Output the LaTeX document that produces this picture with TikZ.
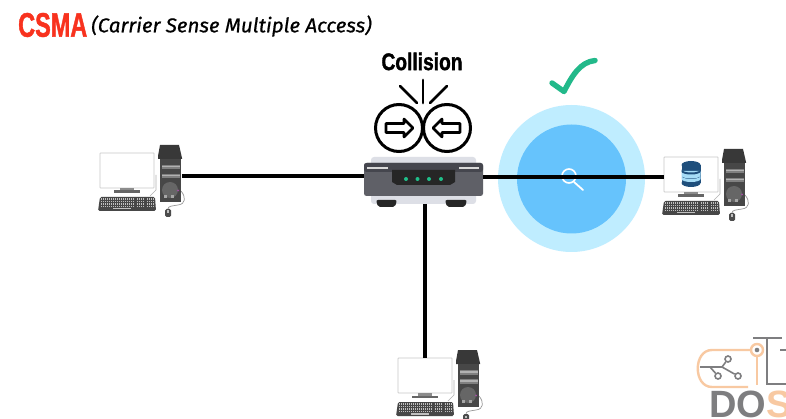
\documentclass[tikz,border=0pt]{standalone}
\usepackage{fontspec}
\setmainfont{Liberation Sans}
\newfontfamily\handfont[FakeBold=.7]{Fira Sans}
\newfontfamily\heavyfont[FakeBold=1.6]{Liberation Sans}
\definecolor{csmared}{HTML}{F8321E}
\definecolor{hubdark}{HTML}{45464E}
\definecolor{hubmid}{HTML}{5F6067}
\definecolor{hubback}{HTML}{DDDFE6}
\definecolor{hubled}{HTML}{1FC08A}
\definecolor{haloout}{HTML}{BFEDFF}
\definecolor{haloin}{HTML}{66C3FC}
\definecolor{tick}{HTML}{22B98A}
\definecolor{logoor}{HTML}{F8C9A2}
\definecolor{logogr}{HTML}{7E7E80}
\definecolor{dbdark}{HTML}{1F4F7C}
\definecolor{dblight}{HTML}{A6DCF6}
\tikzset{
  link/.style={line width=3.4pt,black},
  ray/.style={line width=2.8pt,black,line cap=round},
  bump/.style={circle,draw=black,line width=3pt,fill=white,minimum size=47pt,inner sep=0pt},
  flow/.style={draw=black,line width=2.6pt,fill=white,line join=round},
  hubbody/.style={rectangle,rounded corners=2.5pt,fill=hubmid,minimum width=119pt,minimum height=33pt,inner sep=0pt},
  led/.style={circle,fill=hubled,minimum size=4pt,inner sep=0pt},
  logoline/.style={line width=2.4pt,logoor},
  logogrey/.style={line width=2.4pt,logogr},
  logonode/.style={circle,draw=logogr,line width=1.6pt,fill=white,minimum size=6pt,inner sep=0pt}
}
\newcommand{\computer}[4]{%
 \begin{scope}[shift={(#2,#3)}]
  \draw[draw=black!22,line width=.7pt,fill=white,rounded corners=.5pt] (100,153) rectangle (154,188);
  \fill[black!45] (120,188) rectangle (134,190.5);
  \fill[black!60] (114,190.5) rectangle (140,193);
  \draw[black!30,line width=.6pt] (150,196) -- (156,190) -- (156,175);
  \draw[black!40,line width=.7pt] (181,191) .. controls (186,197) and (186,204) .. (178,205) .. controls (172,206) and (168,206) .. (168,209);
  \fill[black!78] (158,156) -- (160,145) -- (179,145) -- (182,158) -- (182,159) -- (158,159) -- cycle;
  \fill[black!72] (160,159) rectangle (181,202);
  \fill[black!50] (161.5,165) rectangle (179.5,169.5);
  \fill[black!30] (161.5,166) rectangle (179.5,167.5);
  \fill[black!50] (161.5,174) rectangle (179.5,178.5);
  \fill[black!30] (161.5,175) rectangle (179.5,176.5);
  \fill[black!60] (170,190) circle (8pt);
  \fill[black!35] (164,195) rectangle (167,198);
  \fill[black!35] (171,195) rectangle (174,198);
  \fill[violet!70] (178,190.5) circle (1pt);
  \fill[black!72,rounded corners=1.5pt] (100,197) -- (155,197) -- (156,211) -- (98,211) -- cycle;
  \foreach \r in {199,201.5,204,206.5}
    \draw[black!25,line width=1.2pt,dash pattern=on 1.2pt off .8pt] (101,\r) -- (154.5,\r);
  \draw[black!72,line width=1pt] (135,197) -- (135,211);
  \draw[black!72,line width=1pt] (145,197) -- (145,211);
  \fill[black!25] (113,208) rectangle (131,209.5);
  \fill[black!70,rounded corners=1.5pt] (165,209) rectangle (171,217);
  \fill[black!25] (167,210.5) rectangle (169,213);
  \coordinate (#1) at (#4);
 \end{scope}}
\begin{document}
\begin{tikzpicture}[x=1pt,y=-1pt]
\useasboundingbox (0,0) rectangle (786,419);
\fill[white] (0,0) rectangle (786,419);
\clip (0,0) rectangle (786,419);

% title
\node[anchor=west,inner sep=0pt,text=csmared,font=\heavyfont\bfseries\fontsize{34}{34}\selectfont] (csma) at (18,25) {\scalebox{.69}[1]{CSMA}};
\node[anchor=west,inner sep=0pt,font=\handfont\itshape\fontsize{20}{20}\selectfont] (full) at (91,26) {\scalebox{1.03}[1]{(Carrier Sense Multiple Access)}};

% halo
\node[circle,fill=haloout,minimum size=147pt,inner sep=0pt] (halo) at (571.5,178.5) {};
\node[circle,fill=haloin,minimum size=109pt,inner sep=0pt] (haloc) at (571.5,179) {};
\draw[white,line width=1.6pt] (569,176) circle (7pt);
\draw[white,line width=1.8pt,line cap=round] (574,182) -- (583,190);

% tick
\draw[tick,line width=5.4pt,line cap=round,line join=round] (552,83) -- (564,91.5) .. controls (572,76) and (580,62) .. (595,60.5);

% computers
\computer{pcleft}{0}{0}{182,176}
\computer{pcright}{564}{4}{100,173}
\computer{pcdown}{298}{205}{127,153}

% database icon on the right monitor
\begin{scope}[shift={(691,0)}]
  \fill[dbdark] (-9.5,165) rectangle (9.5,183);
  \fill[dbdark] (0,165) ellipse (9.5pt and 4pt);
  \fill[dbdark] (0,183) ellipse (9.5pt and 4pt);
  \fill[dblight] (-9.5,171) -- (9.5,171) -- (9.5,175.5) arc (0:180:9.5pt and -3pt) -- cycle;
  \fill[dbdark] (-9.5,169.5) arc (180:0:9.5pt and -3pt) -- (9.5,171.5) arc (0:180:9.5pt and -3pt) -- cycle;
  \fill[dblight] (-9.5,179) arc (180:0:9.5pt and -3pt) -- (9.5,176) arc (0:180:9.5pt and -3pt) -- cycle;
\end{scope}

% hub
\fill[hubback,rounded corners=3pt] (371,157) rectangle (476,204);
\fill[black!85,rounded corners=2pt] (376,200) -- (397,200) -- (395,207) -- (378,207) -- cycle;
\fill[black!85,rounded corners=2pt] (445,200) -- (467,200) -- (465,207) -- (447,207) -- cycle;
\node[hubbody] (hub) at (423.5,179.5) {};
\fill[hubdark,rounded corners=2.5pt] (364,163) rectangle (483,172);
\fill[black!85] (392,170) -- (455,170) -- (455,182) -- (450,185) -- (397,185) -- (392,182) -- cycle;
\draw[white!85!black,line width=1.1pt] (367,168) -- (388,168);
\draw[white!85!black,line width=1.1pt] (459,168) -- (479,168);
\node[led] (l1) at (406,179) {};
\node[led] (l2) at (417.5,179) {};
\node[led] (l3) at (429,179) {};
\node[led] (l4) at (441,179) {};

% connectors
\coordinate (tophub) at (425,204);
\draw[link] (pcleft) -- (hub.west |- pcleft);
\draw[link] (hub.east |- pcright) -- (pcright);
\draw[link] (tophub) -- (pcdown);

% collision
\node[bump] (cl) at (399,128) {};
\node[bump] (cr) at (447,128) {};
\draw[flow] (386,123.5) -- (404,123.5) -- (404,119) -- (413,128) -- (404,137) -- (404,132.5) -- (386,132.5) -- cycle;
\draw[flow] (460,123.5) -- (442,123.5) -- (442,119) -- (433,128) -- (442,137) -- (442,132.5) -- (460,132.5) -- cycle;
\coordinate (rayc) at (423,103);
\coordinate (rayl) at (417,103);
\coordinate (rayr) at (430,103);
\draw[ray] (rayc) -- (423,80);
\draw[ray] (rayl) -- (400,86);
\draw[ray] (rayr) -- (447,86);
\node[inner sep=0pt,font=\heavyfont\bfseries\fontsize{24}{24}\selectfont] (coll) at (422,61.5) {\scalebox{.8}[1]{Collision}};

% logo
\draw[logoline] (751,350) -- (712,350) .. controls (693,350) and (693,387) .. (712,387) -- (748,387);
\node[circle,draw=logoor,line width=2.4pt,fill=white,minimum size=12pt,inner sep=0pt] (lc) at (757,350) {};
\fill[logogr] (757,350) circle (2.3pt);
\draw[logoline] (lc) -- (757,385);
\draw[logogrey] (753,338) -- (782,338);
\draw[logogrey] (767,338) -- (767,384) -- (786,384);
\draw[logogrey] (780,350) -- (786,350);
\node[logonode] (n1) at (728,359) {};
\node[logonode] (n2) at (718,376) {};
\node[logonode] (n3) at (738,376) {};
\coordinate (n0) at (700,367);
\draw[logogrey,line width=1.6pt] (n0) -- (722,367) -- (n1);
\draw[logogrey,line width=1.6pt] (710,367) -- (n2);
\draw[logogrey,line width=1.6pt] (722,367) -- (n3);
\node[anchor=west,inner sep=0pt,font=\bfseries\fontsize{38}{38}\selectfont,text=logogr] (dos) at (709,404) {DO\textcolor{logoor}{S}};
\end{tikzpicture}
\end{document}
